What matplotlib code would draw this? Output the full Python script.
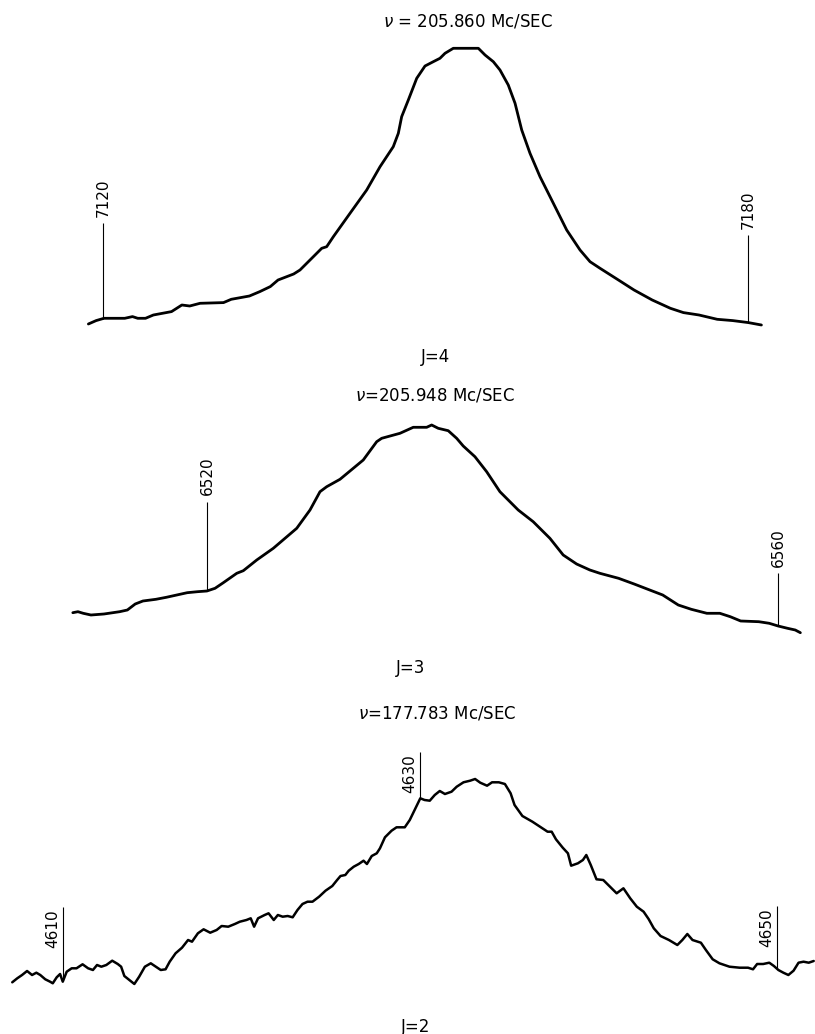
import numpy as np
import matplotlib
matplotlib.use("Agg")
import matplotlib.pyplot as plt

# recorder traces: field reading vs. signal (arb. units above the first marker)
p1_field = [7118.65, 7119.37, 7120.10, 7122.03, 7122.75, 7123.24, 7123.96, 7124.69,
            7126.38, 7126.86, 7127.34, 7128.07, 7129.03, 7131.21, 7131.93, 7133.62,
            7134.59, 7135.56, 7136.28, 7137.73, 7138.32, 7139.56, 7140.34, 7140.80,
            7141.42, 7142.97, 7144.52, 7145.76, 7146.99, 7147.46, 7147.77, 7148.39,
            7149.17, 7149.94, 7150.71, 7151.33, 7151.80, 7152.57, 7154.90, 7155.52,
            7156.29, 7156.91, 7157.68, 7158.31, 7158.93, 7159.70, 7160.63, 7161.87,
            7163.11, 7164.35, 7165.28, 7166.21, 7167.92, 7169.37, 7171.06, 7172.75,
            7173.96, 7175.41, 7177.10, 7178.55, 7180.00, 7181.21]
p1_signal = [-5.7, -2.3, 0, 0, 1.7, 0, 0, 3.3, 6.7, 10, 13.3, 12.3, 15, 15.7, 19, 22.3,
             26.7, 31.7, 38.3, 44.3, 48.3, 61.6, 70, 71.6, 81.6, 105, 128.3, 151.6,
             171.6, 185, 201.6, 218.3, 240, 252.3, 256.6, 260, 265, 270, 270, 263.3,
             256.6, 248.3, 233.3, 215, 188.3, 165, 141.6, 115, 88.3, 68.3, 56.6, 50,
             38.3, 28.3, 18.3, 10, 5.7, 3.3, -1, -2.3, -4.3, -6.7]
p1_marks = [7120, 7180]
p1_mark_tops = [95.3, 83.3]

p2_field = [6510.61, 6510.97, 6511.34, 6511.88, 6512.79, 6513.89, 6514.43, 6514.98,
            6515.52, 6516.43, 6517.16, 6517.89, 6518.62, 6519.34, 6520.00, 6520.57,
            6521.15, 6522.09, 6522.55, 6523.49, 6524.65, 6526.29, 6527.22, 6527.92,
            6528.39, 6529.32, 6530.95, 6531.89, 6532.24, 6533.52, 6534.45, 6535.39,
            6535.74, 6536.20, 6536.90, 6537.49, 6537.95, 6538.77, 6539.59, 6540.52,
            6541.80, 6542.85, 6544.02, 6544.95, 6545.89, 6546.82, 6547.52, 6548.83,
            6549.92, 6551.01, 6551.92, 6553.01, 6553.92, 6555.01, 6555.92, 6556.65,
            6557.38, 6558.65, 6559.38, 6560.00, 6560.66, 6561.20, 6561.56]
p2_signal = [-22.7, -21.7, -23.3, -25, -24, -21.7, -20, -14, -11, -9.3, -7.3, -5, -2.7,
             -1.7, -1, 1.7, 7.3, 16.7, 19.3, 30, 41.7, 61.7, 80, 98.3, 103.3, 110.7,
             130, 148.3, 151.7, 156.7, 162.7, 162.7, 165, 161.7, 159.3, 151.7, 144,
             133.3, 118.3, 98.3, 80, 68.3, 51.7, 35, 26, 20, 16.7, 11.7, 6, 0, -5, -15,
             -19.3, -23.3, -23.3, -26.7, -31, -31.7, -33.3, -36, -38.3, -40, -42.7]
p2_marks = [6520, 6560]
p2_mark_tops = [88.3, 16.7]

p3_field = [4607.14, 4607.42, 4607.69, 4607.97, 4608.25, 4608.49, 4608.71, 4608.99,
            4609.26, 4609.41, 4609.63, 4609.82, 4609.97, 4610.19, 4610.47, 4610.74,
            4611.08, 4611.39, 4611.66, 4611.89, 4612.13, 4612.41, 4612.74, 4613.05,
            4613.24, 4613.42, 4613.70, 4613.98, 4614.25, 4614.57, 4614.90, 4615.18,
            4615.46, 4615.73, 4615.96, 4616.29, 4616.65, 4616.99, 4617.21, 4617.54,
            4617.86, 4618.23, 4618.59, 4618.87, 4619.24, 4619.61, 4619.89, 4620.26,
            4620.50, 4620.69, 4620.91, 4621.28, 4621.50, 4621.79, 4622.02, 4622.29,
            4622.57, 4622.85, 4623.12, 4623.40, 4623.68, 4623.96, 4624.33, 4624.69,
            4625.07, 4625.34, 4625.53, 4625.80, 4625.99, 4626.27, 4626.55, 4626.82,
            4627.01, 4627.28, 4627.56, 4627.74, 4628.02, 4628.39, 4628.67, 4629.13,
            4629.41, 4629.68, 4630.00, 4630.24, 4630.53, 4630.81, 4631.09, 4631.38,
            4631.75, 4632.04, 4632.42, 4632.79, 4633.07, 4633.36, 4633.74, 4634.02,
            4634.40, 4634.74, 4635.06, 4635.28, 4635.72, 4636.28, 4636.75, 4637.13,
            4637.36, 4637.60, 4637.98, 4638.27, 4638.45, 4638.83, 4639.11, 4639.30,
            4639.55, 4639.87, 4640.25, 4640.63, 4641.00, 4641.38, 4641.76, 4642.13,
            4642.51, 4642.79, 4643.08, 4643.46, 4643.93, 4644.40, 4644.68, 4644.96,
            4645.25, 4645.72, 4646.00, 4646.38, 4646.76, 4647.32, 4647.89, 4648.36,
            4648.64, 4648.87, 4649.21, 4649.55, 4649.81, 4650.06, 4650.34, 4650.62,
            4650.91, 4651.19, 4651.47, 4651.76, 4652.04]
p3_signal = [-2.3, 1.7, 5, 9, 5, 7.3, 5, 0.7, -1.7, -3.3, 2.7, 6, -1.7, 8.3, 11.7, 11.7,
             15.7, 11.7, 10, 15, 13.3, 15, 19.3, 16, 13.3, 4, 0, -4, 3.3, 13.3, 16.7,
             13.3, 10, 10.7, 18.3, 26.7, 32.3, 40, 38.3, 46.7, 50.7, 47.3, 50, 54, 53.3,
             56, 58.3, 60, 61.7, 53.3, 61.7, 65, 66.7, 60, 65, 63.3, 64, 62.7, 70, 76,
             78.3, 78.3, 83.3, 89.3, 94, 100, 104, 105, 109.3, 113.3, 116, 119.3, 116,
             124, 126.7, 131.7, 142.7, 149.3, 152.7, 152.7, 160, 170, 181.7, 180, 179.3,
             185, 189, 186, 188.3, 193.3, 197.7, 199.3, 201, 197.3, 194.3, 197.7, 197.7,
             196, 186.7, 175, 164, 158.3, 152.7, 148.3, 148.3, 140.7, 132.3, 126.7,
             114.3, 116.7, 120, 125, 115, 100.7, 100, 93.3, 86.7, 91.7, 81.7, 73.3,
             68.3, 61, 51.7, 44, 40, 35, 40, 46, 40, 37.3, 30, 20.7, 16.7, 13.3, 12.3,
             12.3, 10.7, 16, 16, 17.3, 14, 10, 7.3, 5, 9.3, 17.3, 18.3, 17.3, 19]
p3_marks = [4610, 4630, 4650]
p3_mark_tops = [73.3, 228.3, 74]

titles = [r"$\nu$ = 205.860 Mc/SEC", r"$\nu$=205.948 Mc/SEC", r"$\nu$=177.783 Mc/SEC"]
j_labels = ["J=4", "J=3", "J=2"]

W, H = 815, 1034
fig = plt.figure(figsize=(W / 100, H / 100), dpi=100)
fig.patch.set_facecolor("white")


def place(ax, u0, px0, u1, px1, base_px):
    # map two marker readings and the trace baseline onto the page
    k = (px1 - px0) / (u1 - u0)
    ax.set_xlim(u0 - px0 / k, u0 + (W - px0) / k)
    ax.set_ylim(base_px - H, base_px)
    ax.axis("off")


panels = [
    (p1_field, p1_signal, p1_marks, p1_mark_tops, (102.9, 748.4), 318.3, "above", 2.0),
    (p2_field, p2_signal, p2_marks, p2_mark_tops, (206.9, 778.1), 590.0, "above", 2.0),
    (p3_field, p3_signal, p3_marks, p3_mark_tops, (63.3, 777.3), 980.0, "side", 1.8),
]

for field, signal, marks, tops, (pxa, pxb), base, style, lw in panels:
    ax = fig.add_axes([0, 0, 1, 1])
    ax.patch.set_alpha(0)
    place(ax, marks[0], pxa, marks[-1], pxb, base)
    ax.plot(field, signal, color="black", lw=lw, solid_joinstyle="round",
            solid_capstyle="round")
    bottoms = np.interp(marks, field, signal)
    ax.vlines(marks, bottoms, tops, color="black", lw=0.8)
    for m, t in zip(marks, tops):
        if style == "above":
            ax.annotate(str(m), (m, t), xytext=(0, 4.5), textcoords="offset points",
                        rotation=90, ha="center", va="bottom", fontsize=11)
        else:
            ax.annotate(str(m), (m, t), xytext=(-2, -2), textcoords="offset points",
                        rotation=90, ha="right", va="top", fontsize=11)

text_pos = [(468, 21.5), (435, 396), (437, 713)]
j_pos = [(435.5, 357), (410.6, 668), (416, 1027)]
for s, (x, y) in zip(titles, text_pos):
    fig.text(x / W, 1 - y / H, s, ha="center", va="center", fontsize=12)
for s, (x, y) in zip(j_labels, j_pos):
    fig.text(x / W, 1 - y / H, s, ha="center", va="center", fontsize=12)

fig.savefig("out.png", dpi=100, facecolor="white")
